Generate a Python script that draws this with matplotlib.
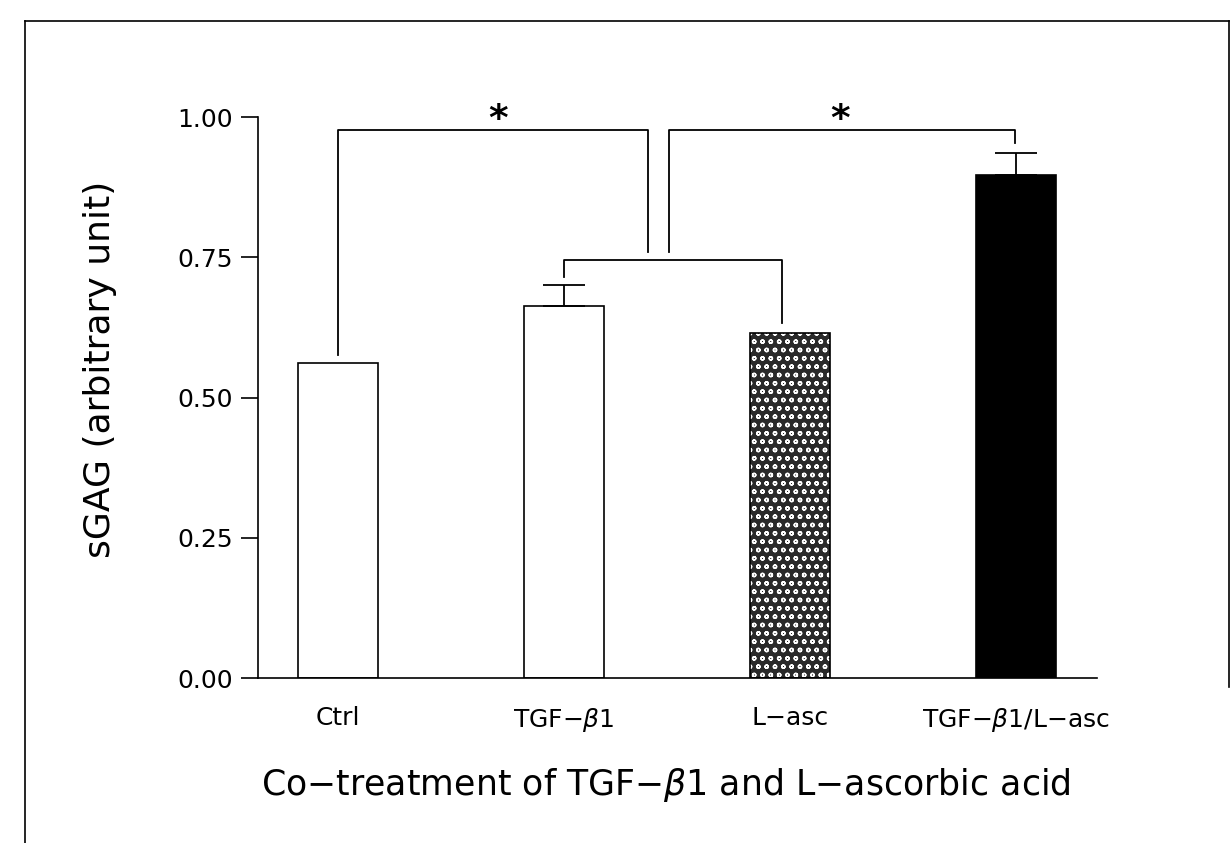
import matplotlib
matplotlib.use('Agg')
import matplotlib.pyplot as plt
from matplotlib.lines import Line2D

# values
groups = ['Ctrl', 'TGF\u2212$\\beta$1', 'L\u2212asc', 'TGF\u2212$\\beta$1/L\u2212asc']
means = [0.561, 0.663, 0.615, 0.897]
errs = [0.0, 0.037, 0.0, 0.039]
yticks = [0.00, 0.25, 0.50, 0.75, 1.00]

fig = plt.figure(figsize=(12.31, 8.43), dpi=100)
ax = fig.add_axes([0.2096, 0.1957, 0.6815, 0.6655])

x = list(range(len(groups)))
w = 0.354

# plain bars
ax.bar(x[0], means[0], w, color='white', edgecolor='black', linewidth=1.2)
ax.bar(x[1], means[1], w, color='white', edgecolor='black', linewidth=1.2)
# L-asc: dark mesh with white dots
ax.bar(x[2], means[2], w, color='#2a2a2a', edgecolor='white', hatch='oo', linewidth=0)
ax.bar(x[2], means[2], w, color='none', edgecolor='black', linewidth=1.2)
ax.bar(x[3], means[3], w, color='black', edgecolor='black', linewidth=1.2)

# upper error bars only
for xi, m, e in zip(x, means, errs):
    if e > 0:
        ax.errorbar(xi, m, yerr=[[0], [e]], fmt='none', ecolor='black',
                    elinewidth=1.3, capsize=15, capthick=1.3)

# significance brackets
lw = 1.3
ax.plot([0, 0, 1.37, 1.37], [0.576, 0.977, 0.977, 0.759], color='black', lw=lw, clip_on=False)
ax.plot([1.465, 1.465, 2.995, 2.995], [0.759, 0.977, 0.977, 0.954], color='black', lw=lw, clip_on=False)
ax.plot([1, 1, 1.965, 1.965], [0.715, 0.745, 0.745, 0.633], color='black', lw=lw, clip_on=False)
ax.text(0.71, 0.995, '*', fontsize=27, fontweight='bold', ha='center', va='center')
ax.text(2.22, 0.995, '*', fontsize=27, fontweight='bold', ha='center', va='center')

ax.set_xlim(-0.354, 3.358)
ax.set_ylim(0, 1.0)
ax.set_yticks(yticks)
ax.set_yticklabels(['%.2f' % t for t in yticks], fontsize=18)
ax.set_xticks(x)
ax.set_xticklabels(groups, fontsize=18)
ax.tick_params(axis='y', direction='out', length=12, width=1.2, pad=6)
ax.tick_params(axis='x', length=0, pad=20)
ax.spines['top'].set_visible(False)
ax.spines['right'].set_visible(False)
ax.spines['left'].set_linewidth(1.2)
ax.spines['bottom'].set_linewidth(1.2)

ax.set_ylabel('sGAG (arbitrary unit)', fontsize=26, va='center')
ax.yaxis.set_label_coords(-0.188, 0.55)
ax.set_xlabel('Co\u2212treatment of TGF\u2212$\\beta$1 and L\u2212ascorbic acid', fontsize=25, va='center')
ax.xaxis.set_label_coords(0.486, -0.191)

# scanned frame around the figure
W, H = 1231, 843
fig.add_artist(Line2D([25 / W, 1229 / W], [1 - 21 / H, 1 - 21 / H], color='black', lw=1.2))
fig.add_artist(Line2D([25 / W, 25 / W], [1 - 21 / H, 0], color='black', lw=1.2))
fig.add_artist(Line2D([1229 / W, 1229 / W], [1 - 21 / H, 1 - 687 / H], color='black', lw=1.2))

fig.savefig('out.png', dpi=100)
